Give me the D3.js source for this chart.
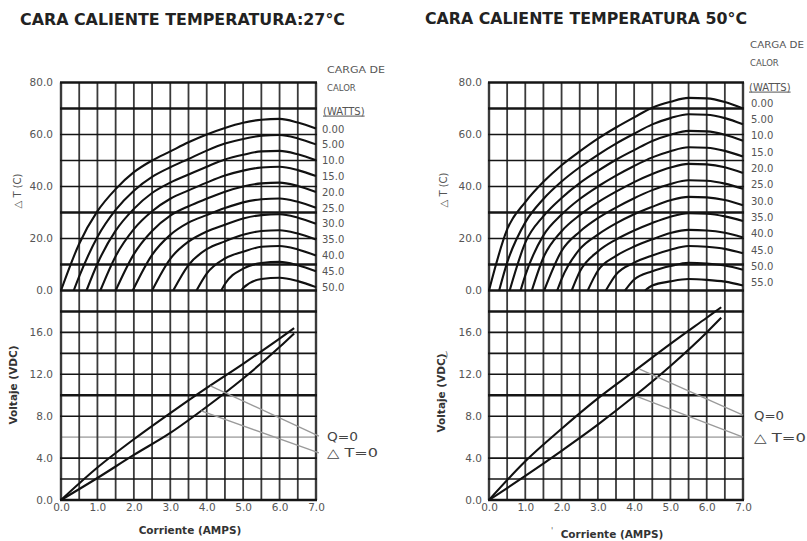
<!DOCTYPE html>
<html><head><meta charset="utf-8">
<script src="https://cdn.jsdelivr.net/npm/d3@7"></script>
<style>body{margin:0;background:#fff}svg{display:block}</style>
</head><body>
<svg id="c" width="807" height="541"></svg>
<script>
// ---------------- data ----------------
const currents = [0.5,1,1.5,2,2.5,3,3.5,4,4.5,5,5.5,6,6.5,7];
const xTicks = [0,1,2,3,4,5,6,7];
const dtTicks = [0,20,40,60,80];
const vTicks = [0,4,8,12,16];

const loadsLeft  = ["0.00","5.00","10.0","15.0","20.0","25.0","30.0","35.0","40.0","45.0","50.0"];
const loadsRight = ["0.00","5.00","10.0","15.0","20.0","25.0","30.0","35.0","40.0","45.0","50.0","55.0"];

// current (A) where each heat-load curve leaves dT = 0
const startLeft  = [0, 0.35, 0.7, 1.08, 1.5, 1.97, 2.5, 3.08, 3.72, 4.4, 4.95];
const startRight = [0, 0.28, 0.57, 0.87, 1.18, 1.52, 1.88, 2.28, 2.72, 3.22, 3.75, 4.3];

// dT (C) at each current in `currents`
const dtLeft = [
  [18,30.5,39,45.5,50,53.5,57,60,62.5,64.5,65.7,66,64.6,62.3],
  [5.4,20.6,31.0,38.4,43.7,47.4,50.6,53.8,56.5,58.3,59.5,59.8,58.5,56.2],
  [null,10.3,23.0,31.4,37.5,41.5,44.6,47.6,50.4,52.2,53.5,53.7,52.4,50.1],
  [null,null,13.2,23.6,30.5,35.3,38.5,41.5,44.2,46.1,47.3,47.6,46.3,44.0],
  [null,null,null,14.0,22.9,28.8,32.4,35.3,38.0,40.0,41.2,41.5,40.2,37.9],
  [null,null,null,null,13.7,21.4,26.1,29.0,31.7,33.9,35.1,35.4,34.1,31.8],
  [null,null,null,null,null,12.2,18.8,22.7,25.3,27.7,29.0,29.3,28.0,25.7],
  [null,null,null,null,null,null,9.8,15.9,18.9,21.4,22.9,23.2,21.9,19.6],
  [null,null,null,null,null,null,null,6.5,12.3,14.9,16.8,17.1,15.8,13.5],
  [null,null,null,null,null,null,null,null,2.5,8.4,10.6,11.0,9.7,7.4],
  [null,null,null,null,null,null,null,null,null,1.0,4.4,4.9,3.6,1.3]
];
const dtRight = [
  [23.5,34,41.8,48.2,53.5,58.4,62.7,66.6,70.3,72.6,74.1,73.9,72.5,70.0],
  [10.7,26.2,35.2,41.9,47.4,52.2,56.5,60.3,63.9,66.3,67.8,67.6,66.3,63.9],
  [null,18.4,28.6,35.6,41.3,46.0,50.3,54.0,57.5,59.9,61.4,61.2,59.9,57.6],
  [null,5.8,21.2,29.2,35.2,40.0,44.2,47.9,51.2,53.6,55.1,54.9,53.7,51.5],
  [null,null,12.7,22.8,29.0,33.9,38.0,41.7,44.8,47.3,48.7,48.5,47.4,45.2],
  [null,null,null,15.2,22.6,27.8,31.9,35.5,38.6,41.0,42.4,42.2,41.1,39.1],
  [null,null,null,4.4,15.9,21.5,25.8,29.3,32.2,34.7,36.0,35.8,34.8,32.8],
  [null,null,null,null,7.2,15.0,19.6,23.1,26.0,28.4,29.7,29.5,28.5,26.7],
  [null,null,null,null,null,7.6,13.3,16.9,19.7,22.1,23.3,23.1,22.2,20.4],
  [null,null,null,null,null,null,6.1,10.7,13.5,15.7,17.1,16.8,16.0,14.3],
  [null,null,null,null,null,null,null,4.2,7.4,9.4,10.7,10.4,9.6,8.0],
  [null,null,null,null,null,null,null,null,1.9,3.5,4.4,4.1,3.4,1.9]
];

// voltage vs current
const vCurrents = [0,1,2,3,4,5,6,6.4];
const vQ0Left   = [0,3.1,5.8,8.3,10.7,13.0,15.4,16.4];
const vDt0Left  = [0,2.1,4.3,6.4,8.9,11.6,14.6,15.9];
const vQ0Right  = [0,3.7,6.8,9.7,12.3,14.9,17.4,18.4];
const vDt0Right = [0,2.3,4.7,7.2,9.9,12.8,16.0,17.4];

// leader lines for Q=0 / dT=0 labels: [I1, V1, I2, V2]
const leaderLeft  = [[4.1,10.9,7.08,6.1],[3.85,8.5,7.08,4.5]];
const leaderRight = [[4.15,12.5,7.0,8.1],[4.07,9.9,7.0,6.0]];

const titleLeft  = "CARA CALIENTE TEMPERATURA:27°C";
const titleRight = "CARA CALIENTE TEMPERATURA 50°C";

// ---------------- drawing ----------------
const svg = d3.select("#c");
svg.append("rect").attr("width",807).attr("height",541).attr("fill","#fff");
const SANS = "'DejaVu Sans', Verdana, sans-serif";

function chart(cfg){
  const g = svg.append("g");
  const x  = d3.scaleLinear().domain([0,7]).range([cfg.x0, cfg.x1]);
  const yT = d3.scaleLinear().domain([0,80]).range([290.5, 82.5]);
  const yB = d3.scaleLinear().domain([0,20]).range([500, 290.5]);

  // title
  g.append("text").attr("x", cfg.titleX).attr("y", cfg.titleY)
    .attr("font-family", SANS).attr("font-weight","bold").attr("font-size", 15.5)
    .attr("fill","#222").attr("textLength", cfg.titleW).attr("lengthAdjust","spacingAndGlyphs")
    .text(cfg.title);

  // light 6.0 line in lower panel
  g.append("line").attr("x1", x(0)).attr("x2", x(7)).attr("y1", yB(6)).attr("y2", yB(6))
    .attr("stroke","#b4b4b4").attr("stroke-width",1.6);

  // vertical grid
  g.selectAll(".vg").data(d3.range(0, 7.001, 0.5)).join("line")
    .attr("x1", d=>x(d)).attr("x2", d=>x(d)).attr("y1", yT(80)).attr("y2", yB(0))
    .attr("stroke", "#3a3a3a").attr("stroke-width", d => (d===0||d===7)?2.4:1.8);

  // horizontal grid top
  const thickTop = [0,10,30,70,80];
  g.selectAll(".ht").data(d3.range(0, 80.1, 10)).join("line")
    .attr("x1", x(0)-1).attr("x2", x(7)+1).attr("y1", d=>yT(d)).attr("y2", d=>yT(d))
    .attr("stroke", "#151515").attr("stroke-width", d => thickTop.includes(d)?2.6:1.6);

  // horizontal grid bottom
  const thickBot = [0,10,18];
  g.selectAll(".hb").data(d3.range(0, 18.1, 2).filter(d=>d!==6)).join("line")
    .attr("x1", x(0)-1).attr("x2", x(7)+1).attr("y1", d=>yB(d)).attr("y2", d=>yB(d))
    .attr("stroke", "#151515").attr("stroke-width", d => thickBot.includes(d)?2.6:1.6);

  // axes (tick labels)
  const tickStyle = sel => {
    sel.select(".domain").remove();
    sel.selectAll("text").attr("font-family", SANS).attr("font-size", 10.5).attr("fill","#555");
  };
  g.append("g").attr("transform", `translate(${cfg.x0},0)`)
    .call(d3.axisLeft(yT).tickValues(dtTicks).tickFormat(d3.format(".1f")).tickSize(0).tickPadding(cfg.yPad))
    .call(tickStyle);
  g.append("g").attr("transform", `translate(${cfg.x0},0)`)
    .call(d3.axisLeft(yB).tickValues(vTicks).tickFormat(d3.format(".1f")).tickSize(0).tickPadding(cfg.yPad))
    .call(tickStyle);
  g.append("g").attr("transform", `translate(0,500)`)
    .call(d3.axisBottom(x).tickValues(xTicks).tickFormat(d3.format(".1f")).tickSize(0).tickPadding(4))
    .call(tickStyle);

  // dT curves
  const lineT = d3.line().x(d=>x(d[0])).y(d=>yT(d[1])).curve(d3.curveMonotoneX);
  cfg.dt.forEach((row, k) => {
    const pts = [[cfg.start[k], 0]].concat(
      currents.map((c,i)=>[c,row[i]]).filter(p=>p[1]!==null));
    g.append("path").attr("d", lineT(pts)).attr("fill","none")
      .attr("stroke","#111").attr("stroke-width",2.1).attr("stroke-linejoin","round");
  });

  // voltage lines
  const lineV = d3.line().x(d=>x(d[0])).y(d=>yB(d[1])).curve(d3.curveMonotoneX);
  [cfg.vq, cfg.vd].forEach(vals => {
    g.append("path").attr("d", lineV(vCurrents.map((c,i)=>[c, vals[i]])))
      .attr("fill","none").attr("stroke","#111").attr("stroke-width",2.1);
  });

  // leaders
  cfg.leaders.forEach(l => {
    g.append("line").attr("x1", x(l[0])).attr("y1", yB(l[1])).attr("x2", x(l[2])).attr("y2", yB(l[3]))
      .attr("stroke","#9a9a9a").attr("stroke-width",1.3);
  });
  const lab = [["Q=0", cfg.leaders[0][3], cfg.qW], ["\u25B3 T=0", cfg.leaders[1][3], cfg.tW]];
  lab.forEach(([t, v, w]) => {
    g.append("text").attr("x", cfg.labX).attr("y", yB(v)).attr("dy","0.36em")
      .attr("font-family", SANS).attr("font-size", 12.5).attr("fill","#444")
      .attr("textLength", w).attr("lengthAdjust","spacingAndGlyphs").text(t);
  });

  // legend
  const leg = g.append("g").attr("font-family", SANS).attr("fill","#555");
  leg.append("text").attr("x", cfg.legHX).attr("y", cfg.legHY).attr("dy","0.36em")
    .attr("font-size", 8.5).attr("textLength", cfg.legHW).attr("lengthAdjust","spacingAndGlyphs").text("CARGA DE");
  leg.append("text").attr("x", cfg.legHX).attr("y", cfg.legHY + cfg.legHStep).attr("dy","0.36em")
    .attr("font-size", 8.5).text("CALOR");
  leg.append("text").attr("x", cfg.legWX).attr("y", cfg.legWY).attr("dy","0.36em")
    .attr("font-size", 10).attr("text-decoration","underline").text("(WATTS)");
  cfg.loads.forEach((t,i) => {
    leg.append("text").attr("x", cfg.legX).attr("y", cfg.legY0 + i*cfg.legStep).attr("dy","0.36em")
      .attr("font-size", 10).text(t);
  });

  // axis titles
  g.append("text").attr("transform", `translate(${cfg.dtTitleX},${cfg.dtTitleY}) rotate(-90)`)
    .attr("text-anchor","middle").attr("dy","0.36em")
    .attr("font-family", SANS).attr("font-size", 10).attr("fill","#555").text("\u25B3 T (C)");
  g.append("text").attr("transform", `translate(${cfg.vTitleX},${cfg.vTitleY}) rotate(-90)`)
    .attr("text-anchor","middle").attr("dy","0.36em")
    .attr("font-family", SANS).attr("font-weight","bold").attr("font-size", 10.5).attr("fill","#333")
    .text("Voltaje (VDC)");
  g.append("text").attr("x", cfg.xTitleX).attr("y", cfg.xTitleY).attr("text-anchor","middle")
    .attr("font-family", SANS).attr("font-weight","bold").attr("font-size", 10.5).attr("fill","#333")
    .text("Corriente (AMPS)");
  return g;
}

chart({
  title: titleLeft, titleX: 20, titleY: 25, titleW: 325,
  x0: 61, x1: 316, yPad: 8,
  dt: dtLeft, start: startLeft, vq: vQ0Left, vd: vDt0Left, leaders: leaderLeft,
  labX: 327, qW: 31, tW: 51,
  loads: loadsLeft, legX: 322, legY0: 129, legStep: 15.8,
  legHX: 327, legHY: 70, legHW: 58, legHStep: 18, legWX: 323, legWY: 111,
  dtTitleX: 17, dtTitleY: 191, vTitleX: 13, vTitleY: 385, xTitleX: 190, xTitleY: 534
});
const gr = chart({
  title: titleRight, titleX: 425, titleY: 24, titleW: 322,
  x0: 489, x1: 743, yPad: 7,
  dt: dtRight, start: startRight, vq: vQ0Right, vd: vDt0Right, leaders: leaderRight,
  labX: 754, qW: 30, tW: 52,
  loads: loadsRight, legX: 751, legY0: 103, legStep: 16.35,
  legHX: 750, legHY: 45, legHW: 54, legHStep: 18, legWX: 749, legWY: 87,
  dtTitleX: 443, dtTitleY: 190, vTitleX: 441, vTitleY: 393, xTitleX: 612, xTitleY: 538
});
// small stray marks present in the scan
gr.append("text").attr("x", 445).attr("y", 358).attr("font-family", SANS).attr("font-size", 8).attr("fill","#666").text(")");
gr.append("text").attr("x", 551).attr("y", 534).attr("font-family", SANS).attr("font-size", 8).attr("fill","#666").text("'");
</script>
</body></html>
